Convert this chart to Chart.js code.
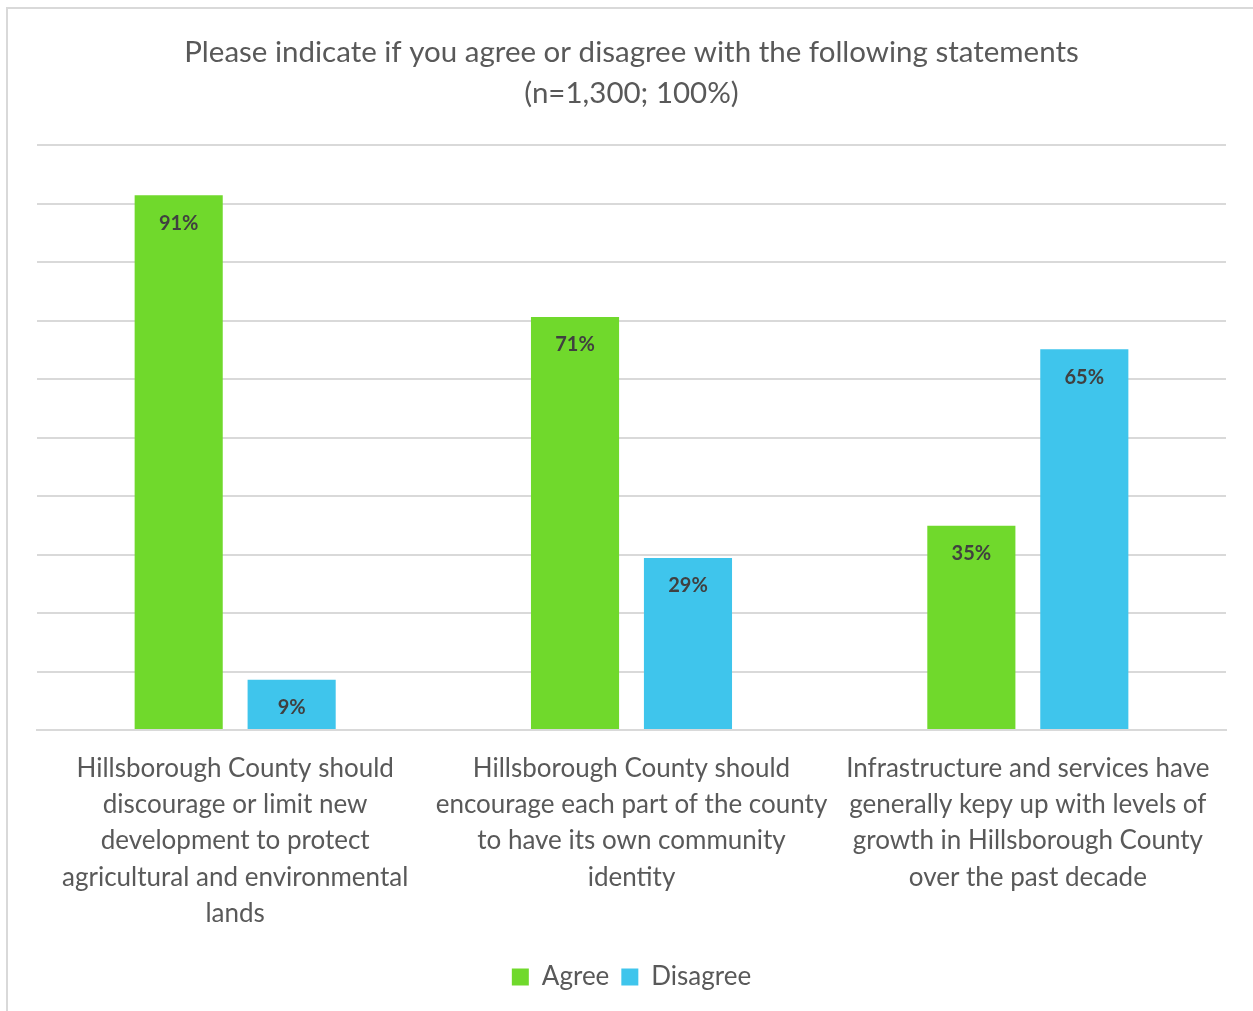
<!DOCTYPE html>
<html>
<head>
<meta charset="utf-8">
<script src="https://cdn.jsdelivr.net/npm/chart.js@4/dist/chart.umd.min.js"></script>
<style>
  html, body { margin: 0; padding: 0; background: #fff; overflow: hidden; }
  #wrap { position: relative; width: 1253px; height: 1011px; overflow: hidden; }
  #frame { position: absolute; left: 6px; top: 7px; width: 1400px; height: 1200px; border: 2px solid #d9d9d9; box-sizing: border-box; }
  canvas { position: absolute; left: 0; top: 0; }
</style>
</head>
<body>
<div id="wrap">
  <div id="frame"></div>
  <canvas id="c" width="1253" height="1011"></canvas>
</div>
<script>
const titleLines = ["Please indicate if you agree or disagree with the following statements", "(n=1,300; 100%)"];
const categories = [
  ["Hillsborough County should", "discourage or limit new", "development to protect", "agricultural and environmental", "lands"],
  ["Hillsborough County should", "encourage each part of the county", "to have its own community", "identity"],
  ["Infrastructure and services have", "generally kepy up with levels of", "growth in Hillsborough County", "over the past decade"]
];
const agree = [91.4, 70.6, 34.9];
const disagree = [8.6, 29.4, 65.1];
const seriesNames = ["Agree", "Disagree"];

const FONT = "Lato, 'Open Sans', sans-serif";

const barLabels = {
  id: 'barLabels',
  afterDatasetsDraw(chart) {
    const ctx = chart.ctx;
    ctx.save();
    ctx.font = "bold 20px " + FONT;
    ctx.fillStyle = "#404040";
    ctx.textAlign = "center";
    ctx.textBaseline = "middle";
    chart.data.datasets.forEach((ds, i) => {
      const meta = chart.getDatasetMeta(i);
      meta.data.forEach((bar, j) => {
        ctx.fillText(Math.round(ds.data[j]) + "%", bar.x, bar.y + 28);
      });
    });
    ctx.restore();
  }
};

new Chart(document.getElementById('c'), {
  type: 'bar',
  data: {
    labels: categories,
    datasets: [
      { label: seriesNames[0], data: agree, backgroundColor: '#70d92c', categoryPercentage: 0.57, barPercentage: 0.78 },
      { label: seriesNames[1], data: disagree, backgroundColor: '#3fc5ec', categoryPercentage: 0.57, barPercentage: 0.78 }
    ]
  },
  options: {
    responsive: false,
    animation: false,
    devicePixelRatio: 1,
    layout: { padding: { left: 37, right: 27, top: 0, bottom: 11 } },
    plugins: {
      title: {
        display: true,
        text: titleLines,
        color: '#595959',
        font: { family: FONT, size: 29.5, weight: 'normal', lineHeight: 1.39 },
        padding: { top: 32, bottom: 31 }
      },
      legend: {
        position: 'bottom',
        labels: {
          color: '#595959',
          font: { family: FONT, size: 26 },
          boxWidth: 17,
          boxHeight: 17,
          padding: 12
        }
      },
      tooltip: { enabled: false }
    },
    scales: {
      x: {
        grid: { display: false, drawTicks: false },
        border: { color: '#d9d9d9', width: 2 },
        ticks: {
          color: '#595959',
          font: { family: FONT, size: 26, lineHeight: 1.4 },
          padding: 20,
          maxRotation: 0,
          autoSkip: false
        }
      },
      y: {
        min: 0, max: 100,
        ticks: { display: false, stepSize: 10 },
        grid: { color: '#d9d9d9', lineWidth: 2, drawTicks: false },
        border: { display: false }
      }
    }
  },
  plugins: [barLabels]
});
</script>
</body>
</html>
